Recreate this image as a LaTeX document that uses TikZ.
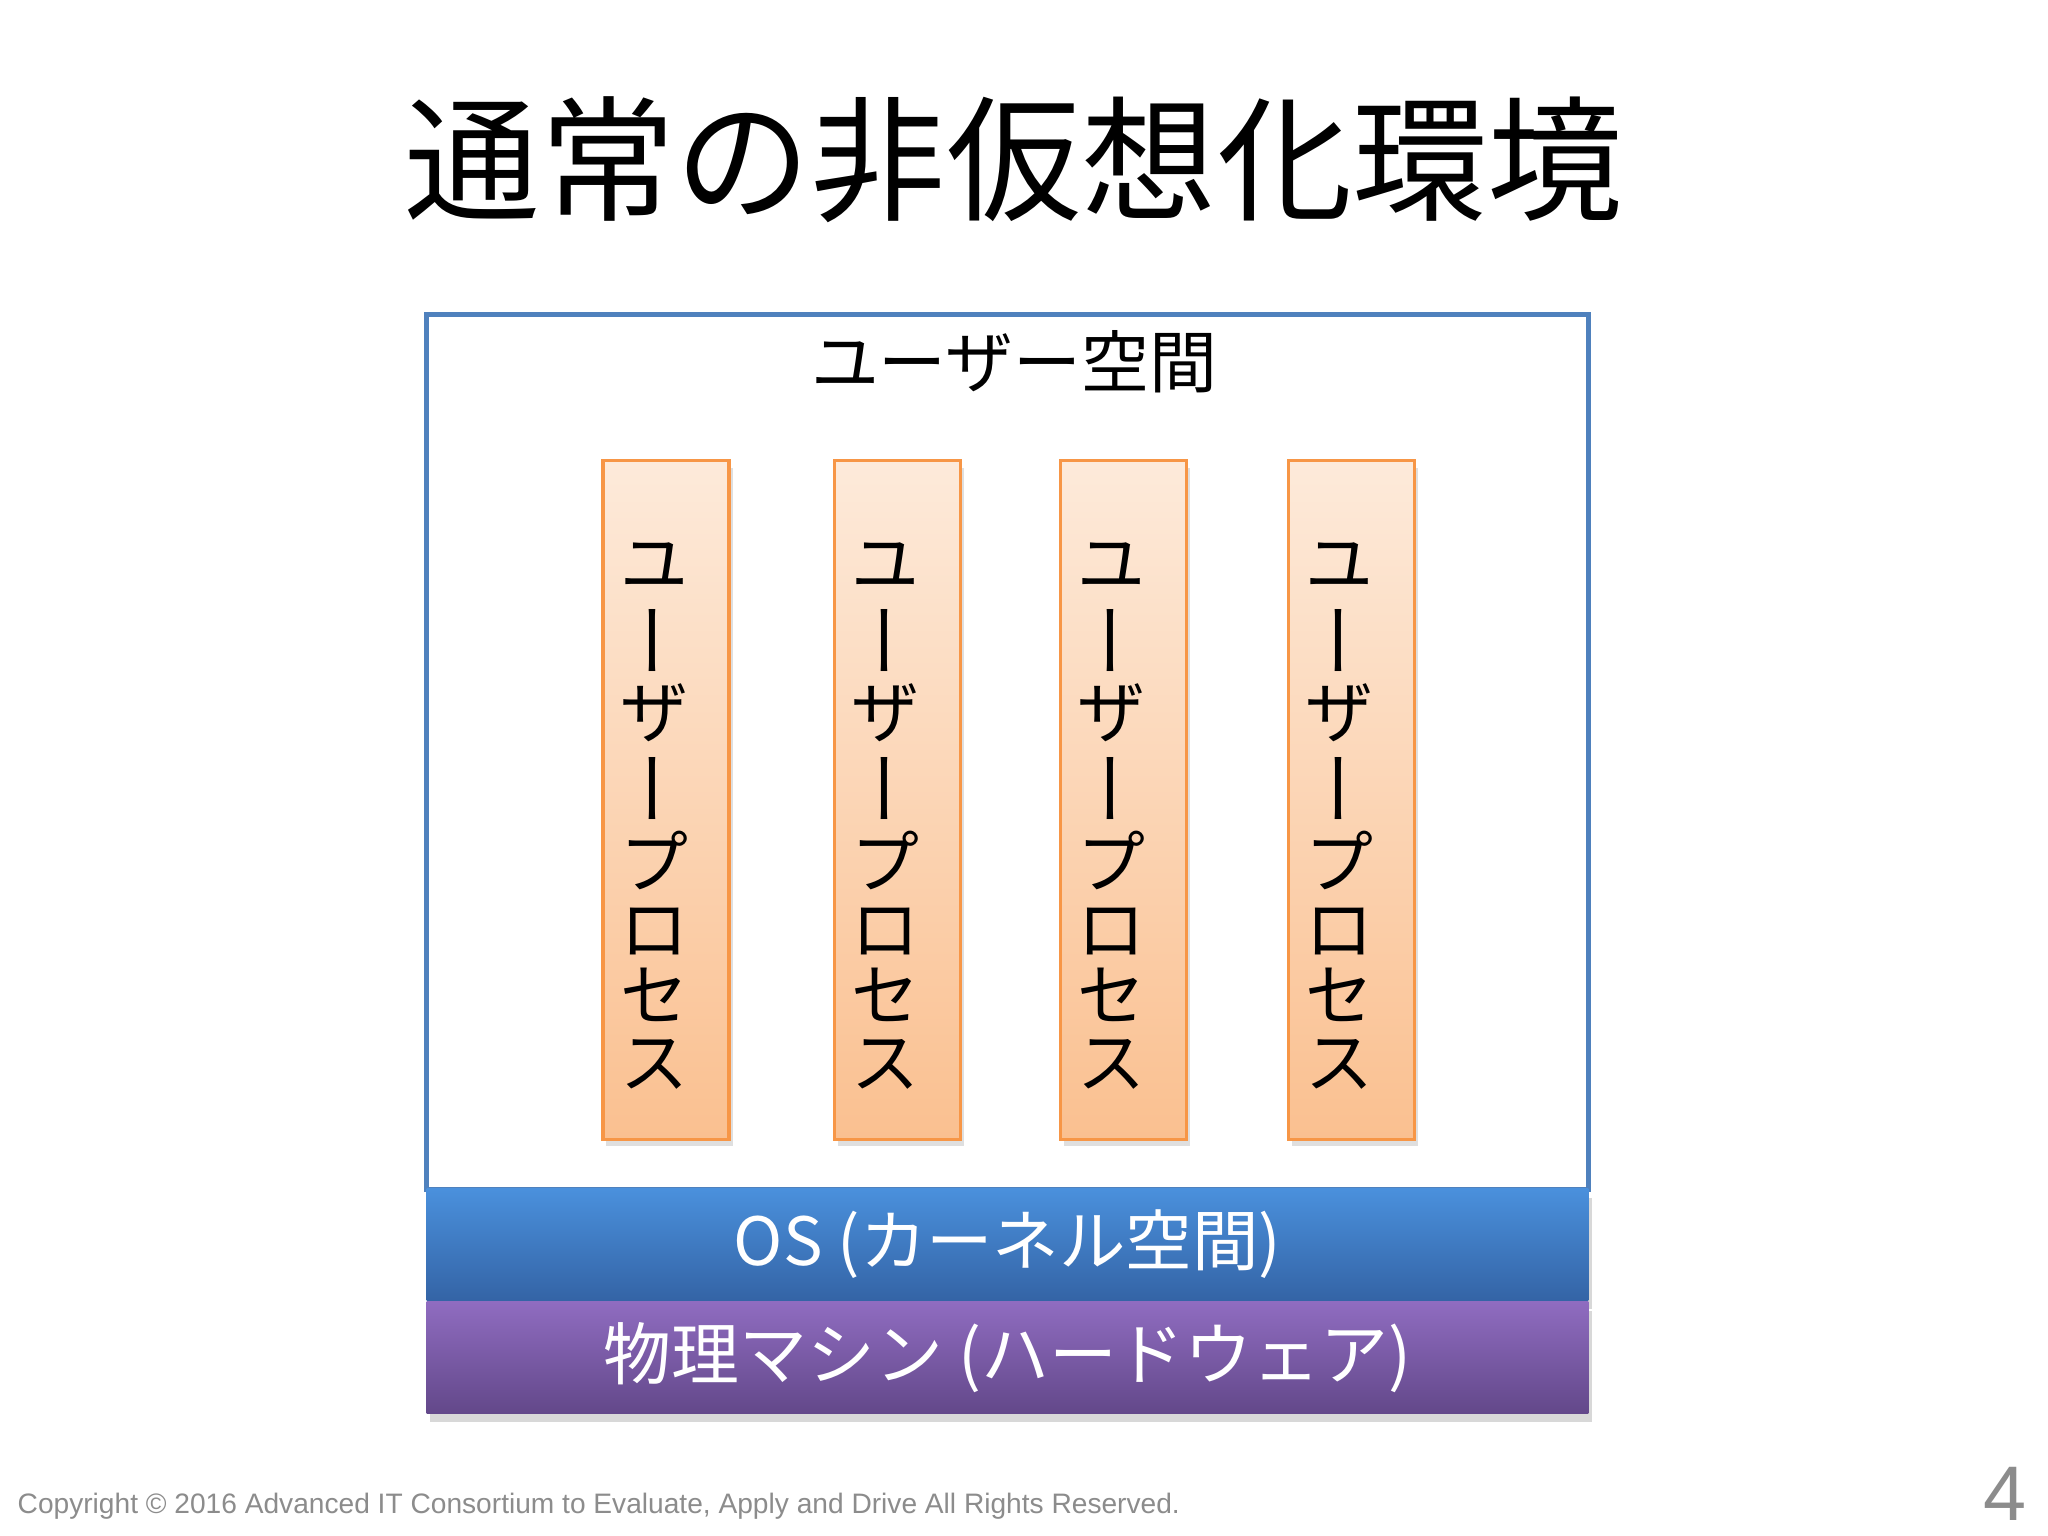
\documentclass[tikz,border=0pt]{standalone}
\usepackage{fontspec}
\usepackage{graphicx}
\usetikzlibrary{shadows}
\newfontfamily\jpfont{Noto Sans CJK JP}
\setmainfont{Liberation Sans}
\definecolor{spaceblue}{RGB}{79,129,189}
\definecolor{procline}{RGB}{247,150,70}
\definecolor{proctop}{RGB}{253,234,218}
\definecolor{procbot}{RGB}{250,192,144}
\definecolor{ostop}{RGB}{74,144,220}
\definecolor{osbot}{RGB}{52,100,166}
\definecolor{hwtop}{RGB}{143,108,192}
\definecolor{hwbot}{RGB}{99,72,138}
\definecolor{footgray}{RGB}{140,140,140}
\newcommand{\tatebar}{\kern5.6pt\rotatebox[origin=c]{90}{\scalebox{1.15}[1]{ー}}}
\newcommand{\proctext}{ユ\\\tatebar\\ザ\\\tatebar\\プ\\ロ\\セ\\ス}
\begin{document}
\begin{tikzpicture}[x=0.01cm,y=-0.01cm,
  jp/.style={font=\jpfont\fontsize{19.3}{19.3}\selectfont},
  procbox/.style={draw=procline,line width=0.9pt,top color=proctop,bottom color=procbot,
    minimum width=1.26cm,minimum height=6.78cm,inner sep=0pt,
    drop shadow={opacity=0.25,shadow xshift=1pt,shadow yshift=-2pt}},
  proclabel/.style={font=\jpfont\fontsize{19.3}{18.9}\selectfont,align=center,inner sep=0pt},
  band/.style={minimum width=11.61cm,minimum height=1.11cm,inner sep=0pt,text=white,jp,
    drop shadow={opacity=0.3,shadow xshift=1pt,shadow yshift=-2.5pt}}]
\useasboundingbox (0,0) rectangle (2048,1536);
\fill[white] (0,0) rectangle (2048,1536);
\node[font=\jpfont\fontsize{38.5}{40}\selectfont] (title) at (1014,160) {通常の非仮想化環境};
% user space
\node[draw=spaceblue,line width=1.4pt,fill=white,minimum width=11.61cm,minimum height=8.74cm] (userspace) at (1007.5,752) {};
\node[jp] (userlabel) at (1014,362) {ユーザー空間};
\node[procbox] (proc1) at (666,800) {};
\node[procbox] (proc2) at (897.5,800) {};
\node[procbox] (proc3) at (1123.5,800) {};
\node[procbox] (proc4) at (1351.5,800) {};
\node[proclabel] (text1) at (654,816) {\proctext};
\node[proclabel] (text2) at (885.5,816) {\proctext};
\node[proclabel] (text3) at (1111.5,816) {\proctext};
\node[proclabel] (text4) at (1339.5,816) {\proctext};
% kernel and hardware
\node[band,top color=ostop,bottom color=osbot,font=\jpfont\fontsize{18.9}{19}\selectfont] (os) at (1007.5,1244.5) {OS (カーネル空間)};
\node[band,top color=hwtop,bottom color=hwbot] (hw) at (1007.5,1357.5) {物理マシン (ハードウェア)};
% footer
\node[anchor=west,inner sep=0pt,text=footgray,font=\fontsize{8}{10}\selectfont] (copyright) at (17,1506) {Copyright © 2016 Advanced IT Consortium to Evaluate, Apply and Drive All Rights Reserved.};
\node[text=footgray,font=\fontsize{22}{24}\selectfont] (pagenum) at (2005,1494) {4};
\end{tikzpicture}
\end{document}
